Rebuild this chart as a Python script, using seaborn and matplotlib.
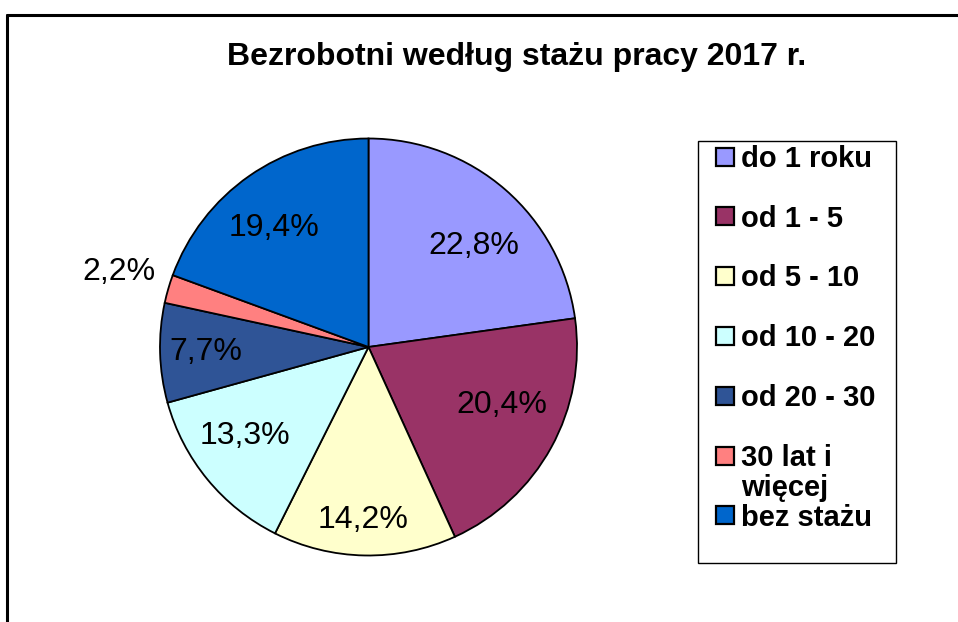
import numpy as np
import matplotlib.pyplot as plt
import matplotlib.lines as mlines
import matplotlib.patches as mpatches
import seaborn as sns

sns.set_theme(style="white")
plt.rcParams['font.family'] = ['Liberation Sans', 'DejaVu Sans']
plt.rcParams['text.color'] = 'black'

# data
categories = ['do 1 roku', 'od 1 - 5', 'od 5 - 10', 'od 10 - 20',
              'od 20 - 30', '30 lat i', 'bez stażu']
wrapped_tail = {'30 lat i': 'więcej'}
shares = [22.8, 20.4, 14.2, 13.3, 7.7, 2.2, 19.4]
colors = ['#9999FF', '#993366', '#FFFFCC', '#CCFFFF', '#2F5496', '#FF8080', '#0066CC']

# label placement per wedge: distance (fraction of radius) and angular nudge (deg)
label_dist = [0.70, 0.70, 0.83, 0.73, 0.78, 1.25, 0.73]
label_turn = [-5.4, 5.2, -0.6, -3.8, 0.2, -0.6, 3.7]

fig = plt.figure(figsize=(9.58, 6.22), dpi=100)
ax = fig.add_axes([160 / 958, 1 - 556 / 622, 417 / 958, 418 / 622])

wedges, _ = ax.pie(shares, colors=colors, startangle=90, counterclock=False,
                   wedgeprops=dict(edgecolor='black', linewidth=1.3))
ax.set_xlim(-1, 1)
ax.set_ylim(-1, 1)
ax.set_aspect('equal')

for w, v, d, t in zip(wedges, shares, label_dist, label_turn):
    ang = np.deg2rad((w.theta1 + w.theta2) / 2 + t)
    ax.text(d * np.cos(ang), d * np.sin(ang), f'{v:.1f}%'.replace('.', ','),
            ha='center', va='center', fontsize=23, color='black')

fig.text(517 / 958, 1 - 57 / 622, 'Bezrobotni według stażu pracy 2017 r.',
         ha='center', va='center', fontsize=23, fontweight='bold')

handles = [mlines.Line2D([], [], marker='s', linestyle='none', markersize=12.5,
                         markerfacecolor=c, markeredgecolor='black', markeredgewidth=1.6)
           for c in colors]
leg = fig.legend(handles, categories, loc='upper left',
                 bbox_to_anchor=(707 / 958, 1 - 141 / 622),
                 frameon=False, prop=dict(size=21, weight='bold'),
                 handlelength=1.0, handletextpad=0.05, labelspacing=1.09,
                 borderpad=0.13, borderaxespad=0)
for t in leg.get_texts():
    tail = wrapped_tail.get(t.get_text())
    if tail:
        fig.add_artist(plt.Annotation(tail, xy=(0, 0), xycoords=t,
                                      xytext=(0, -30), textcoords='offset pixels',
                                      fontsize=21, fontweight='bold', va='bottom',
                                      ha='left', zorder=6))

# legend frame
fig.add_artist(mpatches.Rectangle((698 / 958, 1 - 563 / 622), 198 / 958, 422 / 622,
                                  transform=fig.transFigure, fill=False,
                                  edgecolor='black', linewidth=1.0))

# outer frame (top and left edges visible)
fig.add_artist(mlines.Line2D([7 / 958, 1], [1 - 15 / 622, 1 - 15 / 622],
                             transform=fig.transFigure, color='black', linewidth=2.2))
fig.add_artist(mlines.Line2D([7 / 958, 7 / 958], [0, 1 - 15 / 622],
                             transform=fig.transFigure, color='black', linewidth=2.2))

fig.savefig('out.png', dpi=100)
